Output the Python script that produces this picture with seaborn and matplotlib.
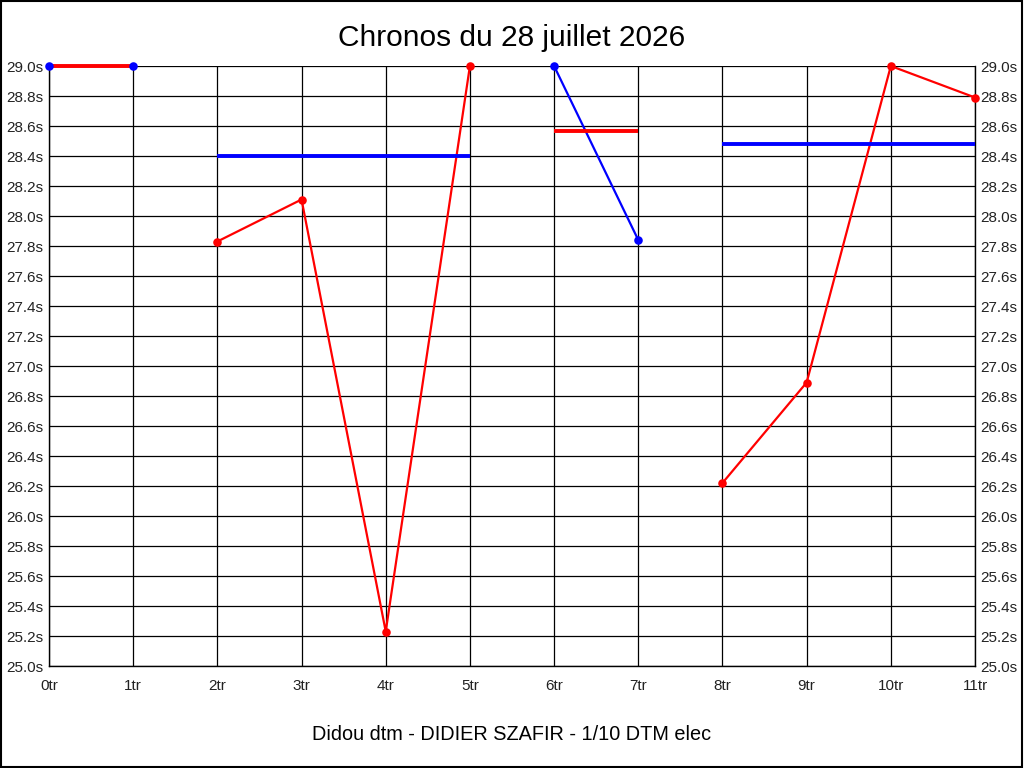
import matplotlib
matplotlib.use("Agg")
import matplotlib.pyplot as plt
import seaborn as sns
import pandas as pd

# lap times (one value per lap)
laps = list(range(12))
chronos = [29.0, 29.0, 27.83, 28.11, 25.23, 29.0, 29.0, 27.84, 26.22, 26.89, 29.0, 28.79]
runs = [0, 0, 1, 1, 1, 1, 2, 2, 3, 3, 3, 3]
run_colors = ["blue", "red", "blue", "red"]
# average line of each run (drawn in the other colour)
run_avgs = [29.0, 28.40, 28.57, 28.48]
avg_colors = ["red", "blue", "red", "blue"]

yticks = [round(25.0 + 0.2 * i, 1) for i in range(21)]
xtick_labels = [f"{i}tr" for i in laps]

sns.set_theme(style="white")
plt.rcParams["font.family"] = ["Liberation Sans", "DejaVu Sans"]

df = pd.DataFrame({"tour": laps, "chrono": chronos, "run": runs})

fig = plt.figure(figsize=(10.24, 7.68), dpi=100)
ax = fig.add_axes([49 / 1024, 1 - 666 / 768, (975 - 49) / 1024, 600 / 768])

# data lines, then averages over them, then the dots on top
for r in sorted(df["run"].unique()):
    sub = df[df["run"] == r]
    sns.lineplot(data=sub, x="tour", y="chrono", ax=ax, color=run_colors[r], lw=1.6, zorder=3,
                 clip_on=False)

for r, avg in enumerate(run_avgs):
    sub = df[df["run"] == r]
    ax.hlines(avg, sub["tour"].min(), sub["tour"].max(), color=avg_colors[r], lw=2.8, zorder=4,
              clip_on=False)

for r in sorted(df["run"].unique()):
    sub = df[df["run"] == r]
    sns.scatterplot(data=sub, x="tour", y="chrono", ax=ax, color=run_colors[r], s=38,
                    linewidth=0, zorder=5, clip_on=False)

ax.set_xlim(0, 11)
ax.set_ylim(25.0, 29.0)
ax.set_xticks(laps)
ax.set_xticklabels(xtick_labels)
ax.set_yticks(yticks)
ax.set_yticklabels([f"{v:.1f}s" for v in yticks])
ax.grid(True, color="black", lw=0.9)
ax.set_axisbelow(True)
ax.tick_params(axis="both", labelsize=11, colors="#222222", length=0, pad=4)
ax.tick_params(axis="x", pad=9)
ax.tick_params(axis="y", labelright=True)
ax.spines["top"].set_visible(False)
for side in ["left", "bottom", "right"]:
    ax.spines[side].set_color("black")
    ax.spines[side].set_linewidth(1.0)
ax.set_xlabel("")
ax.set_ylabel("")

fig.text(0.5, 1 - 46 / 768, "Chronos du 28 juillet 2026", ha="center", va="baseline", fontsize=21.5, color="black")
fig.text(0.5, 1 - 734 / 768, "Didou dtm - DIDIER SZAFIR - 1/10 DTM elec", ha="center", va="center",
         fontsize=14.3, color="black")

# thin frame around the whole picture
fig.patches.append(plt.Rectangle((0.0005, 0.0007), 0.998, 0.998, transform=fig.transFigure,
                                 fill=False, edgecolor="black", lw=1.5))

fig.savefig("out.png", dpi=100)
